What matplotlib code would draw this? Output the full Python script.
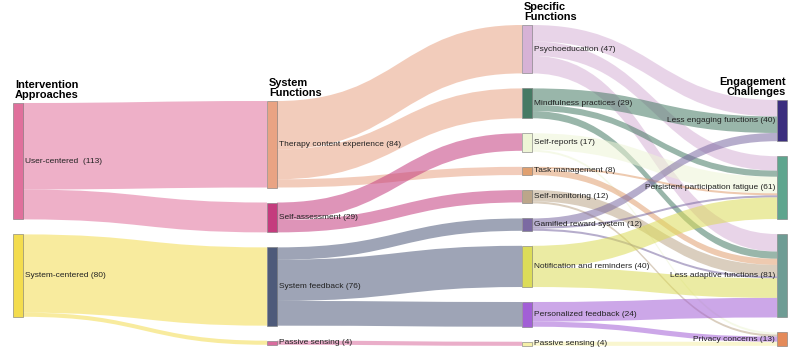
import matplotlib.pyplot as plt
from matplotlib.path import Path
from matplotlib.patches import PathPatch, Rectangle

plt.rcParams['font.family'] = ['Liberation Sans', 'DejaVu Sans']

# nodes
node_names = ["User-centered ", "System-centered",
              "Therapy content experience", "Self-assessment", "System feedback", "Passive sensing",
              "Psychoeducation", "Mindfulness practices", "Self-reports", "Task management",
              "Self-monitoring", "Gamified reward system", "Notification and reminders",
              "Personalized feedback", "Passive sensing",
              "Less engaging functions", "Persistent participation fatigue",
              "Less adaptive functions", "Privacy concerns"]
node_counts = [113, 80,
               84, 29, 76, 4,
               47, 29, 17, 8, 12, 12, 40, 24, 4,
               40, 61, 81, 13]
node_col = [0, 0,
            1, 1, 1, 1,
            2, 2, 2, 2, 2, 2, 2, 2, 2,
            3, 3, 3, 3]
node_colors = ["#e0709c", "#f3dc4e",
               "#e9a383", "#c43c7e", "#4e5a7a", "#d96c9e",
               "#d6b2d6", "#467a64", "#eef5d6", "#e0a070",
               "#bca68a", "#7b6aa2", "#dcdc58", "#a25fd6", "#f5f0a8",
               "#3b2e7e", "#5ea58e", "#6e9c94", "#e48a5a"]

col_titles = ["Intervention\nApproaches", "System\nFunctions", "Specific\nFunctions", "Engagement\nChallenges"]

# links
link_src = [0, 0, 1, 1,
            2, 2, 2, 3, 3, 4, 4, 4, 5,
            6, 6, 6, 7, 7, 7, 8, 8, 9, 9, 10, 10,
            11, 11, 11, 12, 12, 13, 13, 14]
link_tgt = [2, 3, 4, 5,
            6, 7, 9, 8, 10, 11, 12, 13, 14,
            15, 16, 17, 15, 16, 17, 16, 18, 16, 17, 17, 18,
            15, 16, 17, 16, 17, 17, 18, 18]
link_val = [84, 29, 76, 4,
            47, 29, 8, 17, 12, 12, 40, 24, 4,
            16, 14, 17, 16, 6, 7, 16, 2, 2, 6, 11, 2,
            8, 2, 2, 21, 19, 19, 5, 4]

# layout
col_x = [13, 267, 522, 777]
col_top = [103, 101, 25, 100]
node_w = 10
gap = 15
k = 1.03

fig = plt.figure(figsize=(8, 3.57), dpi=100)
ax = fig.add_axes([0, 0, 1, 1])
ax.set_xlim(0, 800)
ax.set_ylim(357, 0)
ax.axis('off')

n = len(node_names)
inflow = [0] * n
outflow = [0] * n
for s, t, v in zip(link_src, link_tgt, link_val):
    outflow[s] += v
    inflow[t] += v
size = [max(inflow[i], outflow[i]) for i in range(n)]

y0 = [0.0] * n
h = [0.0] * n
for c in range(4):
    y = col_top[c]
    for i in range(n):
        if node_col[i] == c:
            y0[i] = y
            h[i] = size[i] * k
            y += h[i] + gap

def mid(i):
    return y0[i] + h[i] / 2

# order links at each end
src_off = {}
tgt_off = {}
for i in range(n):
    outs = sorted([j for j in range(len(link_src)) if link_src[j] == i], key=lambda j: mid(link_tgt[j]))
    y = y0[i]
    for j in outs:
        src_off[j] = y
        y += link_val[j] * k
    ins = sorted([j for j in range(len(link_tgt)) if link_tgt[j] == i], key=lambda j: mid(link_src[j]))
    y = y0[i]
    for j in ins:
        tgt_off[j] = y
        y += link_val[j] * k

for j in range(len(link_src)):
    s, t, v = link_src[j], link_tgt[j], link_val[j]
    xa = col_x[node_col[s]] + node_w
    xb = col_x[node_col[t]]
    xm = (xa + xb) / 2
    at, bt = src_off[j], tgt_off[j]
    ab, bb = at + v * k, bt + v * k
    verts = [(xa, at), (xm, at), (xm, bt), (xb, bt), (xb, bb),
             (xm, bb), (xm, ab), (xa, ab), (xa, at)]
    codes = [Path.MOVETO, Path.CURVE4, Path.CURVE4, Path.CURVE4, Path.LINETO,
             Path.CURVE4, Path.CURVE4, Path.CURVE4, Path.CLOSEPOLY]
    ax.add_patch(PathPatch(Path(verts, codes), facecolor=node_colors[s], alpha=0.55,
                           edgecolor='none', zorder=1))

for i in range(n):
    c = node_col[i]
    ax.add_patch(Rectangle((col_x[c], y0[i]), node_w, h[i], facecolor=node_colors[i],
                           edgecolor='#777777', lw=0.4, zorder=2))
    label = node_names[i] + " (" + str(node_counts[i]) + ")"
    if c == 3:
        ax.text(col_x[c] - 2, mid(i), label, ha='right', va='center', fontsize=6.0,
                color='#222222', zorder=3)
    else:
        ax.text(col_x[c] + node_w + 2, mid(i), label, ha='left', va='center', fontsize=6.0,
                color='#222222', zorder=3)

for c in range(4):
    if c == 3:
        ax.text(col_x[c] + node_w - 1, col_top[c] - 3, col_titles[c], ha='right', va='bottom',
                fontsize=7.9, fontweight='bold', linespacing=1.0)
    else:
        ax.text(col_x[c] + 2, col_top[c] - 3, col_titles[c], ha='left', va='bottom',
                fontsize=7.9, fontweight='bold', linespacing=1.0)

fig.savefig("out.png", dpi=100)
